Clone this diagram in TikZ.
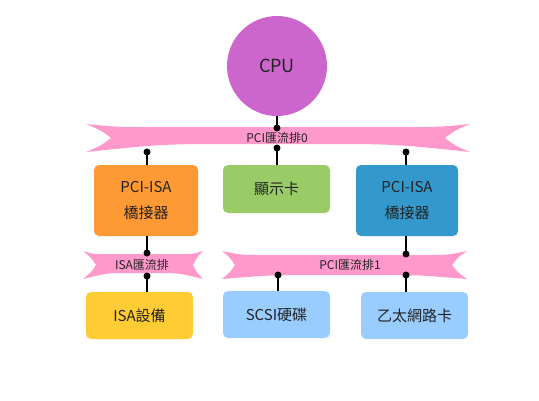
\documentclass[tikz,border=0pt]{standalone}
\usepackage{fontspec}
\setmainfont{Noto Sans CJK TC}
\definecolor{cpuc}{HTML}{CC66CC}
\definecolor{busc}{HTML}{FF99CC}
\definecolor{orangec}{HTML}{FF9933}
\definecolor{greenc}{HTML}{99CC66}
\definecolor{bluec}{HTML}{3399CC}
\definecolor{yellowc}{HTML}{FFCC33}
\definecolor{lbluec}{HTML}{99CCFF}
\definecolor{txt}{HTML}{222222}
% ribbon: L, R, top, bot, c, topmid, botmid, dleft, dright
\newcommand\myribbon[9]{%
  \fill[busc] (#1,#3)
    .. controls ({#1+0.08*(#2-#1)},#6) .. ({#1+0.16*(#2-#1)},#6)
    -- ({#2-0.16*(#2-#1)},#6)
    .. controls ({#2-0.08*(#2-#1)},#6) .. (#2,#3)
    .. controls ({#2-0.6*#9},{#5-0.55*(#4-#3)/2}) .. ({#2-#9},#5)
    .. controls ({#2-0.6*#9},{#5+0.55*(#4-#3)/2}) .. (#2,#4)
    .. controls ({#2-0.2*(#2-#1)},#7) .. ({#2-0.4*(#2-#1)},#7)
    -- ({#1+0.4*(#2-#1)},#7)
    .. controls ({#1+0.2*(#2-#1)},#7) .. (#1,#4)
    .. controls ({#1+0.6*#8},{#5+0.55*(#4-#3)/2}) .. ({#1+#8},#5)
    .. controls ({#1+0.6*#8},{#5-0.55*(#4-#3)/2}) .. cycle;}
\begin{document}
\begin{tikzpicture}[x=1pt,y=-1pt,
  box/.style={rounded corners=5pt, inner sep=0pt, align=center, text=txt,
    minimum width=104pt, font=\fontsize{15}{26}\selectfont},
  buslabel/.style={inner sep=0pt, text=txt, font=\fontsize{12}{14}\selectfont},
  conn/.style={line width=2pt, black},
  dot/.style={fill=black}]
\useasboundingbox (0,0) rectangle (539,400);

% buses
\myribbon{86}{470}{124}{152}{138}{127}{144}{25}{25}
\myribbon{83}{203}{251}{279}{265}{254}{273}{13}{10}
\myribbon{222}{467}{251}{279}{265}{255}{275}{13}{15}
\node[buslabel] (bus0) at (277,138) {PCI匯流排0};
\node[buslabel] (busisa) at (142,265) {ISA匯流排};
\node[buslabel] (bus1) at (350,265) {PCI匯流排1};

% CPU
\node[circle, fill=cpuc, minimum size=100pt, inner sep=0pt, text=txt,
  font=\fontsize{18}{20}\selectfont] (cpu) at (277,66) {CPU};

% boxes
\node[box, fill=orangec, minimum height=71pt] (bridgeA) at (146,200.5) {PCI-ISA\\橋接器};
\node[box, fill=greenc, minimum height=48pt, minimum width=107pt] (vga) at (276.5,189) {顯示卡};
\node[box, fill=bluec, minimum height=71pt, minimum width=102pt] (bridgeB) at (407,200.5) {PCI-ISA\\橋接器};
\node[box, fill=yellowc, minimum height=47pt, minimum width=107pt] (isadev) at (139.5,315.5) {ISA設備};
\node[box, fill=lbluec, minimum height=47pt, minimum width=107pt] (scsi) at (276.5,314.5) {SCSI硬碟};
\node[box, fill=lbluec, minimum height=47pt, minimum width=107pt] (eth) at (414.5,315.5) {乙太網路卡};

% connection points on buses
\coordinate (p0cpu) at (277,128);
\coordinate (p0a) at (147,152);
\coordinate (p0b) at (277,148);
\coordinate (p0c) at (406,152);
\coordinate (pisa1) at (147,253);
\coordinate (pisa2) at (147,276);
\coordinate (p1top) at (406,254);
\coordinate (p1a) at (278,275);
\coordinate (p1b) at (406,275);

% connectors
\draw[conn] (cpu.south) -- (p0cpu);
\draw[conn] (p0a) -- (bridgeA.north -| p0a);
\draw[conn] (p0b) -- (vga.north -| p0b);
\draw[conn] (p0c) -- (bridgeB.north -| p0c);
\draw[conn] (bridgeA.south -| pisa1) -- (pisa1);
\draw[conn] (pisa2) -- (isadev.north -| pisa2);
\draw[conn] (bridgeB.south -| p1top) -- (p1top);
\draw[conn] (p1a) -- (scsi.north -| p1a);
\draw[conn] (p1b) -- (eth.north -| p1b);

% dots
\foreach \p in {p0cpu,p0a,p0b,p0c,pisa1,pisa2,p1top,p1a,p1b}
  \fill[dot] (\p) circle[radius=3.5];
\end{tikzpicture}
\end{document}
